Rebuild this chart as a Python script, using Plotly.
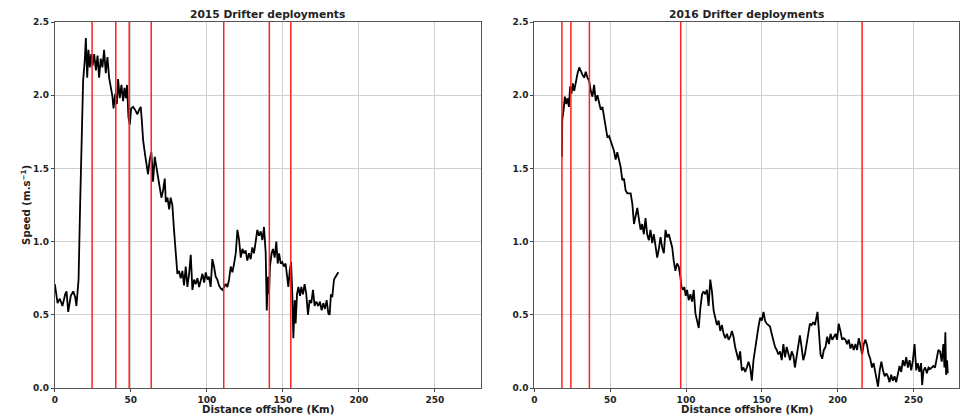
import plotly.graph_objects as go
from plotly.subplots import make_subplots

# ---------------- data ----------------
x2015 = [0.0, 1.8, 3.3, 5.0, 6.8, 7.7, 8.8, 10.5, 12.1, 13.4, 14.2, 15.6, 16.7, 17.7, 18.6, 19.7, 20.4,
         21.3, 22.1, 23.0, 23.9, 24.8, 25.9, 27.0, 28.1, 29.1, 30.2, 31.3, 32.4, 33.5, 34.6, 35.7, 36.8,
         37.9, 38.6, 39.7, 40.8, 41.6, 42.7, 43.8, 44.9, 45.8, 46.7, 47.5, 48.4, 49.3, 50.2, 51.5, 52.8,
         54.3, 55.4, 56.5, 57.2, 58.1, 59.4, 60.5, 61.3, 62.4, 63.5, 64.6, 65.7, 66.8, 67.9, 69.0, 70.1,
         71.2, 72.3, 73.0, 74.1, 75.2, 76.2, 77.3, 78.4, 79.5, 80.6, 81.7, 82.8, 83.9, 85.0, 86.1, 87.2,
         88.3, 89.4, 90.5, 91.6, 92.7, 93.8, 94.9, 96.0, 97.1, 98.2, 99.3, 100.4, 101.4, 102.5, 103.6,
         104.7, 105.8, 106.9, 108.0, 109.1, 110.2, 111.3, 112.4, 113.5, 114.6, 115.7, 116.8, 117.9, 119.0,
         120.1, 121.2, 122.3, 123.4, 124.5, 125.5, 126.6, 127.7, 128.8, 129.9, 131.0, 132.1, 133.2, 134.3,
         135.4, 136.5, 137.6, 138.7, 139.4, 140.2, 140.9, 141.5, 142.6, 143.5, 144.6, 145.7, 146.6, 147.5,
         148.6, 149.6, 150.7, 151.8, 152.9, 153.6, 154.5, 155.4, 156.2, 156.9, 157.8, 158.4, 159.3, 160.2,
         161.3, 162.1, 163.2, 164.3, 165.4, 166.5, 167.6, 168.7, 169.8, 170.9, 172.0, 173.3, 174.4, 175.5,
         176.6, 177.7, 178.8, 179.9, 180.8, 181.6, 182.5, 183.6, 184.7, 186.5]
speed2015 = [0.71, 0.58, 0.61, 0.56, 0.64, 0.66, 0.52, 0.63, 0.66, 0.62, 0.56, 0.74, 1.28, 1.85, 2.10, 2.24, 2.39,
             2.12, 2.31, 2.19, 2.28, 2.20, 2.28, 2.17, 2.27, 2.12, 2.25, 2.19, 2.31, 2.15, 2.26, 2.12, 2.06,
             1.99, 1.91, 2.01, 1.94, 2.11, 1.98, 2.07, 1.96, 2.05, 1.98, 2.07, 1.85, 1.80, 1.91, 1.92, 1.90,
             1.87, 1.90, 1.92, 1.83, 1.69, 1.59, 1.53, 1.46, 1.56, 1.61, 1.41, 1.58, 1.51, 1.42, 1.37, 1.30,
             1.35, 1.43, 1.27, 1.30, 1.22, 1.30, 1.25, 1.08, 0.89, 0.78, 0.80, 0.75, 0.80, 0.70, 0.83, 0.69,
             0.78, 0.91, 0.67, 0.74, 0.71, 0.75, 0.69, 0.74, 0.78, 0.72, 0.79, 0.74, 0.76, 0.69, 0.88,
             0.83, 0.76, 0.74, 0.70, 0.68, 0.67, 0.69, 0.71, 0.69, 0.74, 0.83, 0.79, 0.85, 0.92,
             1.08, 1.01, 0.89, 0.95, 0.92, 0.94, 0.87, 0.92, 0.88, 0.96, 0.92, 1.01, 1.08, 1.04,
             1.07, 1.01, 1.10, 0.92, 0.53, 0.76, 0.64, 0.83, 0.92, 0.95, 0.89, 1.00, 0.85, 0.92,
             0.85, 0.86, 0.83, 0.85, 0.76, 0.69, 0.80, 0.86, 0.64, 0.34, 0.60, 0.44, 0.64, 0.69,
             0.63, 0.69, 0.64, 0.71, 0.64, 0.50, 0.60, 0.58, 0.67, 0.56, 0.59, 0.56, 0.59, 0.53,
             0.58, 0.54, 0.60, 0.51, 0.50, 0.64, 0.62, 0.74, 0.76, 0.79]

x2016 = [18.2, 18.4, 19.3, 20.1, 21.0, 21.9, 22.8, 23.6, 24.5, 25.4, 26.3, 27.4, 28.5, 29.6, 30.6, 31.7, 32.8,
         33.9, 35.0, 36.1, 37.2, 38.3, 39.4, 40.5, 41.6, 42.7, 43.8, 44.9, 46.0, 47.1, 48.2, 49.3, 50.4,
         51.4, 52.5, 53.6, 54.7, 55.8, 56.9, 58.0, 59.1, 60.2, 61.3, 63.5, 64.6, 65.7, 66.8, 67.9, 69.0,
         70.1, 71.1, 72.2, 73.3, 74.4, 75.5, 76.6, 77.7, 78.8, 79.9, 81.0, 82.1, 83.2, 84.3, 85.4, 86.5,
         87.6, 88.7, 89.8, 90.9, 91.9, 93.0, 94.1, 95.2, 96.3, 97.0, 98.1, 98.9, 99.8, 100.7, 101.8, 102.9,
         104.0, 105.1, 106.2, 107.3, 108.4, 109.5, 110.6, 111.6, 112.7, 113.8, 114.9, 116.0, 117.1, 118.2,
         119.3, 120.4, 121.5, 122.6, 123.7, 124.8, 125.9, 127.0, 128.1, 129.2, 130.3, 131.3, 132.4, 133.5,
         134.6, 135.7, 136.8, 137.9, 139.0, 140.1, 141.2, 142.3, 143.4, 144.5, 145.6, 146.7, 147.8, 148.9,
         150.0, 151.1, 152.1, 153.2, 154.3, 155.4, 156.5, 157.6, 158.7, 159.8, 160.9, 162.0, 163.1, 164.2,
         165.3, 166.4, 167.5, 168.6, 169.7, 170.8, 171.8, 172.9, 174.0, 175.1, 176.2, 177.3, 178.4, 179.5,
         180.6, 181.7, 182.8, 183.9, 185.0, 186.1, 186.7, 187.6, 188.7, 189.8, 190.9, 192.0, 193.1, 194.2,
         195.3, 196.4, 197.5, 198.6, 199.6, 200.7, 201.8, 202.9, 204.0, 205.1, 206.2, 207.3, 208.4, 209.5,
         210.6, 211.7, 212.8, 213.9, 215.0, 216.1, 217.2, 218.3, 219.4, 220.4, 221.5, 222.6, 223.7, 224.8,
         225.9, 226.6, 227.7, 228.8, 229.9, 231.0, 232.1, 233.1, 234.2, 235.3, 236.4, 237.5, 238.6, 239.7,
         240.8, 241.9, 243.0, 244.1, 245.2, 246.3, 247.4, 248.5, 249.6, 250.7, 251.8, 252.8, 253.9, 255.0,
         255.7, 256.6, 257.7, 258.8, 259.9, 261.0, 262.0, 263.1, 264.2, 265.3, 266.4, 267.5, 268.6, 269.7,
         270.4, 271.0, 271.5, 272.1, 272.6]
speed2016 = [1.58, 1.83, 1.90, 1.99, 1.94, 1.98, 1.92, 2.06, 2.01, 2.08, 2.03, 2.10, 2.15, 2.19, 2.16, 2.14, 2.12,
             2.16, 2.12, 2.10, 2.03, 1.99, 2.07, 1.96, 2.00, 1.94, 1.90, 1.92, 1.85, 1.81, 1.71, 1.72, 1.69,
             1.65, 1.62, 1.56, 1.61, 1.56, 1.51, 1.42, 1.43, 1.35, 1.33, 1.33, 1.26, 1.12, 1.17, 1.23, 1.15,
             1.08, 1.12, 1.05, 1.16, 1.05, 1.01, 1.08, 0.99, 1.05, 0.97, 0.89, 0.95, 1.03, 0.96, 0.92, 1.08,
             1.03, 1.05, 1.01, 0.96, 0.87, 0.80, 0.85, 0.83, 0.76, 0.69, 0.67, 0.69, 0.63, 0.67, 0.60, 0.64,
             0.59, 0.67, 0.51, 0.46, 0.41, 0.55, 0.64, 0.66, 0.64, 0.67, 0.56, 0.74, 0.66, 0.53,
             0.48, 0.43, 0.46, 0.39, 0.43, 0.37, 0.34, 0.37, 0.33, 0.35, 0.39, 0.35, 0.28, 0.23,
             0.19, 0.25, 0.12, 0.14, 0.11, 0.14, 0.18, 0.14, 0.05, 0.19, 0.28, 0.33, 0.42, 0.48,
             0.46, 0.52, 0.46, 0.44, 0.43, 0.42, 0.37, 0.33, 0.28, 0.26, 0.23, 0.25, 0.19, 0.30,
             0.21, 0.28, 0.23, 0.19, 0.25, 0.22, 0.14, 0.21, 0.28, 0.36, 0.28, 0.19, 0.23, 0.30,
             0.39, 0.44, 0.43, 0.45, 0.43, 0.51, 0.52, 0.39, 0.23, 0.20, 0.26, 0.28, 0.35, 0.30,
             0.37, 0.33, 0.35, 0.37, 0.33, 0.44, 0.39, 0.33, 0.34, 0.33, 0.30, 0.33, 0.27, 0.30,
             0.26, 0.30, 0.26, 0.34, 0.29, 0.23, 0.30, 0.33, 0.29, 0.23, 0.20, 0.14, 0.17, 0.10,
             0.05, 0.01, 0.12, 0.18, 0.12, 0.08, 0.10, 0.08, 0.04, 0.09, 0.05, 0.08, 0.04, 0.10,
             0.15, 0.11, 0.19, 0.15, 0.21, 0.14, 0.19, 0.12, 0.19, 0.30, 0.12, 0.17, 0.11, 0.17,
             0.02, 0.12, 0.14, 0.10, 0.14, 0.13, 0.14, 0.15, 0.14, 0.21, 0.26, 0.25, 0.18, 0.30,
             0.14, 0.38, 0.09, 0.19, 0.10]

deploy2015 = [24.5, 40.1, 48.9, 63.4, 111.1, 141.1, 155.2]
deploy2016 = [18.2, 24.1, 36.3, 96.5, 216.1]

titles = ["2015 Drifter deployments", "2016 Drifter deployments"]
xlabel = "Distance offshore (Km)"
ylabel = "Speed (m.s<sup>−1</sup>)"
xticks = [0, 50, 100, 150, 200, 250]
yticks = [0.0, 0.5, 1.0, 1.5, 2.0, 2.5]

# ---------------- figure ----------------
FONT = "DejaVu Sans"
fig = make_subplots(rows=1, cols=2)

fig.add_trace(go.Scatter(x=x2015, y=speed2015, mode="lines",
                         line=dict(color="black", width=1.8), showlegend=False), row=1, col=1)
fig.add_trace(go.Scatter(x=x2016, y=speed2016, mode="lines",
                         line=dict(color="black", width=1.8), showlegend=False), row=1, col=2)

for v in deploy2015:
    fig.add_shape(type="line", x0=v, x1=v, y0=0, y1=1, xref="x", yref="y domain",
                  line=dict(color="#ff2020", width=1.5))
for v in deploy2016:
    fig.add_shape(type="line", x0=v, x1=v, y0=0, y1=1, xref="x2", yref="y2 domain",
                  line=dict(color="#ff2020", width=1.5))

axis_common = dict(showgrid=True, gridcolor="#d0d0d0", gridwidth=1, showline=True,
                   linecolor="#555555", linewidth=1, mirror=True, ticks="outside",
                   ticklen=3, tickcolor="#444444", zeroline=False,
                   tickfont=dict(family=FONT, size=9, color="#222222", weight="bold"))

fig.update_xaxes(range=[0, 280], tickvals=xticks, **axis_common)
fig.update_yaxes(range=[0, 2.5], tickvals=yticks, tickformat=".1f", **axis_common)

dom1 = [52 / 960, 479 / 960]
dom2 = [533 / 960, 959 / 960]
fig.update_layout(
    xaxis=dict(domain=dom1),
    xaxis2=dict(domain=dom2),
    width=960, height=416,
    margin=dict(l=0, r=0, t=22, b=28),
    paper_bgcolor="white", plot_bgcolor="white",
)

title_font = dict(family=FONT, size=10.7, color="#222222", weight="bold")
label_font = dict(family=FONT, size=10.2, color="#222222", weight="bold")
for i, t in enumerate(titles):
    dom = dom1 if i == 0 else dom2
    cx = (dom[0] + dom[1]) / 2
    fig.add_annotation(text=t, x=cx, y=1.0, xref="paper", yref="paper",
                       xanchor="center", yanchor="bottom",
                       yshift=-1, showarrow=False, font=title_font)
    fig.add_annotation(text=xlabel, x=cx, y=-28 / 366, xref="paper", yref="paper",
                       xanchor="center", yanchor="bottom", yshift=-1,
                       showarrow=False, font=label_font)

fig.add_annotation(text=ylabel, x=22 / 960, y=0.5, xref="paper", yref="paper",
                   textangle=-90, xanchor="center", yanchor="middle", showarrow=False, font=label_font)

fig.write_html("out.html", config={"displayModeBar": False},
               post_script="document.body.style.margin='0';")
